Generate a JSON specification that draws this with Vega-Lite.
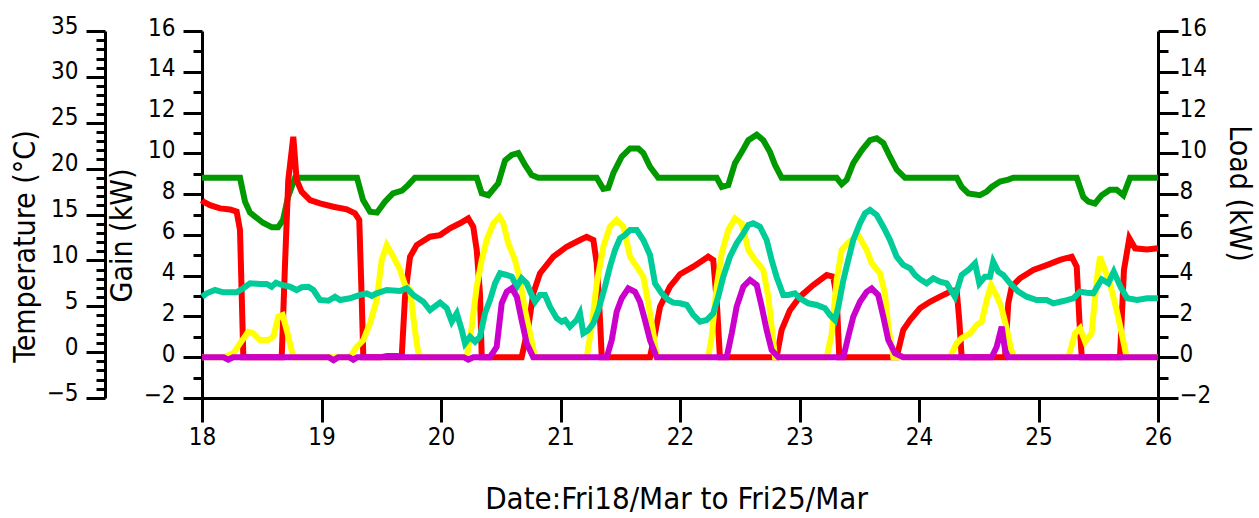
{
"$schema": "https://vega.github.io/schema/vega-lite/v6.json",
"width": 956, "height": 367,
"autosize": "none",
"padding": {"left": 202, "top": 31, "right": 101, "bottom": 120},
"background": "white",
"config": {
 "view": {"stroke": null},
 "axis": {"labelFont": "Liberation Sans Narrow, DejaVu Sans Condensed, Liberation Sans, sans-serif", "titleFont": "Liberation Sans Narrow, DejaVu Sans Condensed, Liberation Sans, sans-serif", "labelColor": "black", "titleColor": "black", "domainColor": "black", "tickColor": "black", "titleFontWeight": "normal", "labelFontSize": 24, "titleFontSize": 30, "grid": false, "domainWidth": 3, "tickWidth": 3, "labelOverlap": false, "labelFlush": false, "labelBound": false}
},
"datasets": {
 "indoor": [{"day":18.000,"value":19.0},{"day":18.318,"value":19.0},{"day":18.360,"value":16.4},{"day":18.402,"value":15.2},{"day":18.510,"value":14.1},{"day":18.586,"value":13.6},{"day":18.636,"value":13.6},{"day":18.678,"value":14.4},{"day":18.720,"value":16.9},{"day":18.778,"value":19.0},{"day":19.297,"value":19.0},{"day":19.347,"value":16.6},{"day":19.406,"value":15.3},{"day":19.464,"value":15.2},{"day":19.531,"value":16.4},{"day":19.598,"value":17.3},{"day":19.674,"value":17.6},{"day":19.724,"value":18.2},{"day":19.782,"value":19.0},{"day":20.299,"value":19.0},{"day":20.341,"value":17.3},{"day":20.396,"value":17.1},{"day":20.479,"value":18.4},{"day":20.536,"value":20.9},{"day":20.592,"value":21.5},{"day":20.647,"value":21.7},{"day":20.703,"value":20.4},{"day":20.759,"value":19.3},{"day":20.814,"value":19.0},{"day":21.303,"value":19.0},{"day":21.358,"value":17.8},{"day":21.400,"value":17.9},{"day":21.442,"value":19.5},{"day":21.512,"value":21.3},{"day":21.582,"value":22.2},{"day":21.651,"value":22.2},{"day":21.693,"value":21.7},{"day":21.749,"value":20.2},{"day":21.818,"value":19.0},{"day":22.307,"value":19.0},{"day":22.349,"value":18.0},{"day":22.404,"value":18.2},{"day":22.460,"value":20.6},{"day":22.516,"value":21.8},{"day":22.572,"value":23.1},{"day":22.642,"value":23.7},{"day":22.697,"value":23.1},{"day":22.753,"value":21.8},{"day":22.795,"value":20.4},{"day":22.851,"value":19.0},{"day":23.311,"value":19.0},{"day":23.353,"value":18.3},{"day":23.395,"value":18.8},{"day":23.450,"value":20.6},{"day":23.521,"value":22.0},{"day":23.590,"value":23.1},{"day":23.646,"value":23.3},{"day":23.701,"value":22.8},{"day":23.757,"value":21.3},{"day":23.813,"value":19.9},{"day":23.883,"value":19.0},{"day":24.316,"value":19.0},{"day":24.357,"value":18.0},{"day":24.413,"value":17.3},{"day":24.510,"value":17.1},{"day":24.567,"value":17.5},{"day":24.608,"value":18.0},{"day":24.678,"value":18.6},{"day":24.747,"value":18.8},{"day":24.789,"value":19.0},{"day":25.320,"value":19.0},{"day":25.375,"value":16.9},{"day":25.417,"value":16.4},{"day":25.473,"value":16.2},{"day":25.529,"value":17.1},{"day":25.598,"value":17.7},{"day":25.654,"value":17.7},{"day":25.710,"value":17.1},{"day":25.766,"value":19.0},{"day":26.000,"value":19.0}],
 "load": [{"day":18.000,"value":7.7},{"day":18.011,"value":7.63},{"day":18.067,"value":7.46},{"day":18.151,"value":7.30},{"day":18.234,"value":7.25},{"day":18.290,"value":7.14},{"day":18.318,"value":6.24},{"day":18.346,"value":0},{"day":18.667,"value":0},{"day":18.695,"value":4.62},{"day":18.722,"value":8.69},{"day":18.764,"value":10.81},{"day":18.792,"value":8.69},{"day":18.834,"value":8.12},{"day":18.904,"value":7.71},{"day":18.987,"value":7.55},{"day":19.099,"value":7.38},{"day":19.211,"value":7.25},{"day":19.280,"value":7.06},{"day":19.316,"value":6.73},{"day":19.336,"value":2.97},{"day":19.350,"value":0},{"day":19.671,"value":0},{"day":19.699,"value":2.97},{"day":19.741,"value":4.93},{"day":19.797,"value":5.50},{"day":19.908,"value":5.91},{"day":19.992,"value":5.99},{"day":20.075,"value":6.32},{"day":20.159,"value":6.57},{"day":20.228,"value":6.81},{"day":20.270,"value":6.40},{"day":20.299,"value":5.26},{"day":20.326,"value":3.13},{"day":20.341,"value":0},{"day":20.675,"value":0},{"day":20.731,"value":1.50},{"day":20.772,"value":3.13},{"day":20.828,"value":4.11},{"day":20.940,"value":4.93},{"day":21.052,"value":5.42},{"day":21.163,"value":5.75},{"day":21.219,"value":5.91},{"day":21.275,"value":5.75},{"day":21.303,"value":4.61},{"day":21.331,"value":1.82},{"day":21.345,"value":0},{"day":21.749,"value":0},{"day":21.791,"value":1.17},{"day":21.833,"value":2.48},{"day":21.916,"value":3.46},{"day":22.000,"value":4.07},{"day":22.111,"value":4.44},{"day":22.236,"value":4.93},{"day":22.278,"value":4.77},{"day":22.307,"value":2.81},{"day":22.334,"value":0},{"day":22.808,"value":0},{"day":22.850,"value":1.33},{"day":22.920,"value":2.31},{"day":23.004,"value":2.97},{"day":23.115,"value":3.54},{"day":23.228,"value":4.03},{"day":23.282,"value":3.95},{"day":23.311,"value":2.97},{"day":23.333,"value":0},{"day":23.813,"value":0},{"day":23.868,"value":1.33},{"day":23.925,"value":1.82},{"day":24.008,"value":2.4},{"day":24.092,"value":2.72},{"day":24.176,"value":2.97},{"day":24.259,"value":3.21},{"day":24.315,"value":3.30},{"day":24.337,"value":1.82},{"day":24.357,"value":0},{"day":24.720,"value":0},{"day":24.747,"value":2.64},{"day":24.776,"value":3.46},{"day":24.845,"value":3.87},{"day":24.957,"value":4.28},{"day":25.069,"value":4.52},{"day":25.180,"value":4.77},{"day":25.278,"value":4.93},{"day":25.320,"value":4.44},{"day":25.342,"value":1.82},{"day":25.362,"value":0},{"day":25.682,"value":0},{"day":25.715,"value":4.28},{"day":25.760,"value":5.83},{"day":25.808,"value":5.34},{"day":25.906,"value":5.29},{"day":26.000,"value":5.34}],
 "solar": [{"day":18.000,"value":0},{"day":18.178,"value":0},{"day":18.262,"value":0.19},{"day":18.318,"value":0.68},{"day":18.387,"value":1.25},{"day":18.429,"value":1.17},{"day":18.485,"value":0.84},{"day":18.555,"value":0.84},{"day":18.597,"value":1.01},{"day":18.638,"value":1.99},{"day":18.675,"value":2.07},{"day":18.709,"value":1.33},{"day":18.764,"value":0},{"day":19.238,"value":0},{"day":19.294,"value":0.51},{"day":19.350,"value":0.84},{"day":19.406,"value":1.66},{"day":19.462,"value":2.81},{"day":19.504,"value":4.77},{"day":19.546,"value":5.50},{"day":19.601,"value":4.93},{"day":19.657,"value":4.28},{"day":19.699,"value":3.54},{"day":19.741,"value":3.30},{"day":19.782,"value":1.33},{"day":19.810,"value":0.19},{"day":19.833,"value":0},{"day":20.215,"value":0},{"day":20.257,"value":1.50},{"day":20.299,"value":3.46},{"day":20.341,"value":4.77},{"day":20.382,"value":5.75},{"day":20.438,"value":6.57},{"day":20.488,"value":6.89},{"day":20.521,"value":6.57},{"day":20.563,"value":5.59},{"day":20.619,"value":4.77},{"day":20.661,"value":3.79},{"day":20.703,"value":2.31},{"day":20.745,"value":1.17},{"day":20.787,"value":0},{"day":21.219,"value":0},{"day":21.261,"value":1.50},{"day":21.303,"value":3.62},{"day":21.358,"value":5.42},{"day":21.414,"value":6.40},{"day":21.470,"value":6.73},{"day":21.526,"value":6.40},{"day":21.582,"value":4.93},{"day":21.638,"value":4.44},{"day":21.693,"value":3.95},{"day":21.735,"value":2.64},{"day":21.777,"value":1.17},{"day":21.805,"value":0},{"day":22.234,"value":0},{"day":22.262,"value":0.84},{"day":22.307,"value":3.46},{"day":22.349,"value":5.10},{"day":22.404,"value":6.24},{"day":22.460,"value":6.81},{"day":22.516,"value":6.57},{"day":22.572,"value":5.26},{"day":22.628,"value":4.77},{"day":22.697,"value":4.28},{"day":22.739,"value":2.97},{"day":22.767,"value":1.50},{"day":22.795,"value":0},{"day":23.228,"value":0},{"day":23.270,"value":1.17},{"day":23.311,"value":3.79},{"day":23.353,"value":5.26},{"day":23.406,"value":5.6},{"day":23.490,"value":6.0},{"day":23.562,"value":5.26},{"day":23.604,"value":4.61},{"day":23.674,"value":4.11},{"day":23.715,"value":3.13},{"day":23.743,"value":1.50},{"day":23.785,"value":0},{"day":24.259,"value":0},{"day":24.315,"value":0.68},{"day":24.357,"value":0.93},{"day":24.427,"value":1.17},{"day":24.483,"value":1.58},{"day":24.525,"value":1.74},{"day":24.567,"value":2.81},{"day":24.603,"value":3.54},{"day":24.646,"value":3.05},{"day":24.688,"value":2.48},{"day":24.730,"value":1.50},{"day":24.772,"value":0.35},{"day":24.800,"value":0},{"day":25.250,"value":0},{"day":25.306,"value":1.17},{"day":25.348,"value":1.42},{"day":25.390,"value":0.76},{"day":25.445,"value":1.17},{"day":25.487,"value":3.79},{"day":25.515,"value":4.93},{"day":25.556,"value":4.28},{"day":25.598,"value":3.62},{"day":25.654,"value":2.31},{"day":25.696,"value":1.17},{"day":25.738,"value":0},{"day":26.000,"value":0}],
 "outdoor": [{"day":18.000,"value":6.04},{"day":18.039,"value":6.41},{"day":18.109,"value":6.77},{"day":18.178,"value":6.52},{"day":18.290,"value":6.52},{"day":18.346,"value":6.96},{"day":18.402,"value":7.50},{"day":18.485,"value":7.43},{"day":18.541,"value":7.43},{"day":18.583,"value":7.13},{"day":18.619,"value":7.57},{"day":18.667,"value":7.32},{"day":18.736,"value":7.13},{"day":18.792,"value":6.77},{"day":18.834,"value":7.07},{"day":18.890,"value":7.13},{"day":18.932,"value":6.77},{"day":18.987,"value":5.68},{"day":19.057,"value":5.60},{"day":19.113,"value":6.04},{"day":19.155,"value":5.68},{"day":19.238,"value":5.87},{"day":19.322,"value":6.23},{"day":19.378,"value":6.41},{"day":19.420,"value":6.12},{"day":19.462,"value":6.41},{"day":19.546,"value":6.77},{"day":19.657,"value":6.66},{"day":19.713,"value":6.96},{"day":19.768,"value":6.23},{"day":19.852,"value":5.50},{"day":19.908,"value":4.59},{"day":19.992,"value":5.4},{"day":20.048,"value":4.78},{"day":20.090,"value":3.32},{"day":20.132,"value":4.23},{"day":20.174,"value":2.41},{"day":20.201,"value":0.96},{"day":20.243,"value":1.68},{"day":20.285,"value":1.14},{"day":20.326,"value":1.68},{"day":20.368,"value":4.23},{"day":20.410,"value":5.68},{"day":20.452,"value":7.50},{"day":20.494,"value":8.59},{"day":20.550,"value":8.41},{"day":20.592,"value":8.22},{"day":20.634,"value":7.13},{"day":20.675,"value":8.05},{"day":20.717,"value":7.50},{"day":20.759,"value":6.23},{"day":20.787,"value":5.50},{"day":20.828,"value":6.23},{"day":20.870,"value":6.23},{"day":20.912,"value":4.95},{"day":20.968,"value":3.69},{"day":21.010,"value":3.32},{"day":21.038,"value":3.50},{"day":21.079,"value":2.77},{"day":21.135,"value":3.50},{"day":21.163,"value":4.23},{"day":21.191,"value":2.05},{"day":21.233,"value":2.41},{"day":21.275,"value":3.14},{"day":21.317,"value":4.59},{"day":21.372,"value":7.13},{"day":21.414,"value":9.31},{"day":21.456,"value":11.13},{"day":21.498,"value":12.41},{"day":21.540,"value":12.77},{"day":21.582,"value":13.31},{"day":21.638,"value":13.31},{"day":21.693,"value":12.22},{"day":21.749,"value":10.59},{"day":21.791,"value":7.50},{"day":21.847,"value":6.41},{"day":21.903,"value":5.68},{"day":21.944,"value":5.39},{"day":22.000,"value":5.32},{"day":22.056,"value":5.14},{"day":22.111,"value":4.05},{"day":22.167,"value":3.32},{"day":22.223,"value":3.50},{"day":22.278,"value":4.23},{"day":22.320,"value":6.04},{"day":22.362,"value":8.22},{"day":22.418,"value":10.40},{"day":22.474,"value":11.86},{"day":22.530,"value":12.95},{"day":22.572,"value":13.86},{"day":22.613,"value":14.04},{"day":22.669,"value":13.67},{"day":22.725,"value":12.22},{"day":22.767,"value":10.04},{"day":22.808,"value":8.22},{"day":22.864,"value":6.23},{"day":22.906,"value":6.23},{"day":22.962,"value":6.41},{"day":23.004,"value":5.87},{"day":23.074,"value":5.32},{"day":23.144,"value":5.14},{"day":23.213,"value":4.78},{"day":23.255,"value":4.05},{"day":23.297,"value":3.50},{"day":23.325,"value":4.95},{"day":23.367,"value":7.86},{"day":23.408,"value":10.04},{"day":23.450,"value":12.22},{"day":23.506,"value":14.04},{"day":23.548,"value":15.13},{"day":23.590,"value":15.49},{"day":23.646,"value":14.95},{"day":23.701,"value":13.67},{"day":23.757,"value":12.22},{"day":23.813,"value":10.40},{"day":23.868,"value":9.50},{"day":23.925,"value":9.14},{"day":23.967,"value":8.41},{"day":24.008,"value":7.95},{"day":24.064,"value":7.50},{"day":24.119,"value":8.05},{"day":24.176,"value":7.68},{"day":24.232,"value":7.50},{"day":24.301,"value":6.04},{"day":24.357,"value":8.41},{"day":24.413,"value":8.95},{"day":24.469,"value":9.68},{"day":24.505,"value":7.50},{"day":24.552,"value":8.22},{"day":24.594,"value":8.22},{"day":24.621,"value":9.86},{"day":24.663,"value":8.77},{"day":24.705,"value":8.41},{"day":24.762,"value":7.50},{"day":24.831,"value":6.59},{"day":24.901,"value":6.04},{"day":24.985,"value":5.68},{"day":25.069,"value":5.68},{"day":25.124,"value":5.32},{"day":25.208,"value":5.57},{"day":25.291,"value":5.87},{"day":25.347,"value":6.59},{"day":25.403,"value":6.48},{"day":25.459,"value":6.41},{"day":25.529,"value":7.94},{"day":25.584,"value":7.50},{"day":25.630,"value":8.77},{"day":25.686,"value":7.13},{"day":25.742,"value":5.87},{"day":25.826,"value":5.68},{"day":25.909,"value":5.87},{"day":26.000,"value":5.87}],
 "casual": [{"day":18.000,"value":0},{"day":18.180,"value":0},{"day":18.220,"value":-0.12},{"day":18.260,"value":0},{"day":19.060,"value":0},{"day":19.101,"value":-0.15},{"day":19.140,"value":0},{"day":19.230,"value":0},{"day":19.266,"value":-0.12},{"day":19.300,"value":0},{"day":19.500,"value":0},{"day":19.546,"value":0.06},{"day":19.632,"value":0.06},{"day":19.700,"value":0},{"day":20.190,"value":0},{"day":20.228,"value":-0.12},{"day":20.270,"value":0},{"day":20.410,"value":0},{"day":20.466,"value":0.51},{"day":20.508,"value":2.64},{"day":20.550,"value":3.21},{"day":20.592,"value":3.38},{"day":20.634,"value":2.97},{"day":20.675,"value":1.82},{"day":20.717,"value":0.68},{"day":20.772,"value":0},{"day":21.387,"value":0},{"day":21.429,"value":0.84},{"day":21.470,"value":2.23},{"day":21.512,"value":2.89},{"day":21.567,"value":3.38},{"day":21.623,"value":3.21},{"day":21.665,"value":2.72},{"day":21.707,"value":1.82},{"day":21.749,"value":0.84},{"day":21.805,"value":0},{"day":22.391,"value":0},{"day":22.433,"value":1.17},{"day":22.474,"value":2.48},{"day":22.530,"value":3.46},{"day":22.586,"value":3.79},{"day":22.642,"value":3.54},{"day":22.684,"value":2.48},{"day":22.725,"value":1.33},{"day":22.767,"value":0.35},{"day":22.823,"value":0},{"day":23.367,"value":0},{"day":23.408,"value":1.01},{"day":23.450,"value":1.99},{"day":23.506,"value":2.72},{"day":23.562,"value":3.21},{"day":23.604,"value":3.38},{"day":23.659,"value":3.05},{"day":23.701,"value":1.99},{"day":23.743,"value":0.84},{"day":23.799,"value":0.19},{"day":23.868,"value":0},{"day":24.608,"value":0},{"day":24.650,"value":0.51},{"day":24.692,"value":1.50},{"day":24.720,"value":0.35},{"day":24.747,"value":0},{"day":26.000,"value":0}]
},
"encoding": {
 "x": {"field": "day", "type": "quantitative", "scale": {"domain": [18, 26], "nice": false, "zero": false},
  "axis": {"values": [18,19,20,21,22,23,24,25,26], "format": "d", "tickSize": 24, "labelPadding": 3, "labelFontSize": 24, "title": "Date:Fri18/Mar to Fri25/Mar", "titleFontSize": 31, "titleX": 474, "titleY": 101, "titleBaseline": "middle", "titleAlign": "center"}}
},
"layer": [
 {"data": {"name": "indoor"}, "mark": {"type": "line", "color": "#009900", "strokeWidth": 6},
  "encoding": {"y": {"field": "value", "type": "quantitative", "scale": {"domain": [-5, 35], "nice": false, "zero": false},
   "axis": {"orient": "left", "offset": 97, "values": [-5,-4,-3,-2,-1,0,1,2,3,4,5,6,7,8,9,10,11,12,13,14,15,16,17,18,19,20,21,22,23,24,25,26,27,28,29,30,31,32,33,34,35],
    "labelExpr": "datum.value % 5 === 0 ? datum.label : ''",
    "tickSize": {"condition": {"test": "datum.value % 5 === 0", "value": 19}, "value": 9},
    "labelPadding": 8, "labelOffset": -5, "labelBaseline": "middle",
    "title": "Temperature (°C)", "titleAngle": 270, "titleX": -80, "titleY": 215, "titleBaseline": "middle", "titleAlign": "center"}}}},
 {"data": {"name": "load"}, "mark": {"type": "line", "color": "#ff0000", "strokeWidth": 6},
  "encoding": {"y": {"field": "value", "type": "quantitative", "scale": {"domain": [-2, 16], "nice": false, "zero": false},
   "axis": {"orient": "right", "offset": 0, "values": [-2,-1,0,1,2,3,4,5,6,7,8,9,10,11,12,13,14,15,16],
    "labelExpr": "datum.value % 2 === 0 ? datum.label : ''",
    "tickSize": {"condition": {"test": "datum.value % 2 === 0", "value": 20}, "value": 10},
    "labelPadding": 1, "labelOffset": -3, "labelBaseline": "middle",
    "title": "Load (kW)", "titleAngle": 90, "titleX": 80, "titleY": 162, "titleBaseline": "middle", "titleAlign": "center"}}}},
 {"data": {"name": "solar"}, "mark": {"type": "line", "color": "#ffff00", "strokeWidth": 6},
  "encoding": {"y": {"field": "value", "type": "quantitative", "scale": {"domain": [-2, 16], "nice": false, "zero": false},
   "axis": {"orient": "left", "offset": 0, "values": [-2,-1,0,1,2,3,4,5,6,7,8,9,10,11,12,13,14,15,16],
    "labelExpr": "datum.value % 2 === 0 ? datum.label : ''",
    "tickSize": {"condition": {"test": "datum.value % 2 === 0", "value": 19}, "value": 9},
    "labelPadding": 8, "labelOffset": -3, "labelBaseline": "middle",
    "title": "Gain (kW)", "titleAngle": 270, "titleX": -80, "titleY": 204, "titleBaseline": "middle", "titleAlign": "center"}}}},
 {"data": {"name": "outdoor"}, "mark": {"type": "line", "color": "#00cc99", "strokeWidth": 6},
  "encoding": {"y": {"field": "value", "type": "quantitative", "scale": {"domain": [-5, 35], "nice": false, "zero": false}, "axis": null}}},
 {"data": {"name": "casual"}, "mark": {"type": "line", "color": "#cc00cc", "strokeWidth": 6},
  "encoding": {"y": {"field": "value", "type": "quantitative", "scale": {"domain": [-2, 16], "nice": false, "zero": false}, "axis": null}}}
],
"resolve": {"scale": {"y": "independent"}, "axis": {"y": "independent"}}
}
